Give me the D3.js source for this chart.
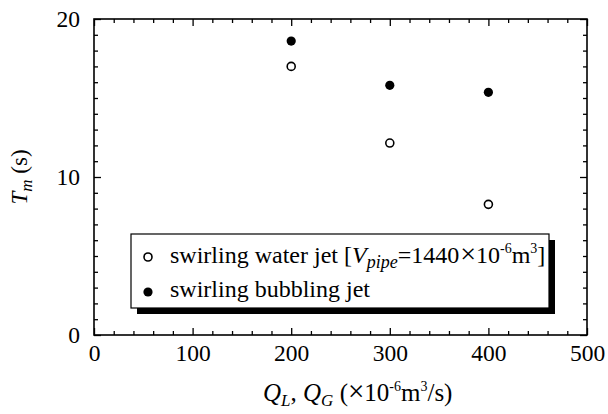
<!DOCTYPE html>
<html><head><meta charset="utf-8">
<script src="https://cdn.jsdelivr.net/npm/d3@7"></script>
<style>
body{margin:0;background:#fff;}
svg{display:block;}
text{font-family:"Liberation Serif","Times New Roman",serif;fill:#000;}
</style></head>
<body>
<svg id="c" width="608" height="414"></svg>
<script>
const categories = [200, 300, 400];
const waterJet = [17.0, 12.15, 8.27];
const bubblingJet = [18.6, 15.8, 15.36];
const xTicks = [0, 100, 200, 300, 400, 500];
const yTicks = [0, 10, 20];
const legendLabels = ["swirling water jet", "swirling bubbling jet"];

const svg = d3.select("#c");
const L = 94, R = 587, T = 19, B = 335;
const x = d3.scaleLinear().domain([0, 500]).range([L, R]);
const y = d3.scaleLinear().domain([0, 20]).range([B, T]);

const xMinor = d3.range(0, 501, 20).filter(v => v % 100 !== 0);
const yMinor = d3.range(0, 21, 1).filter(v => v % 10 !== 0);
const SERIF = '"Liberation Serif","Times New Roman",serif';

function styleAxis(g){
  g.attr("font-family", SERIF);
  g.select(".domain").remove();
  g.selectAll(".tick line").attr("stroke", "#000").attr("stroke-width", 1.3);
}
// bottom
svg.append("g").attr("transform", `translate(0,${B})`)
  .call(d3.axisBottom(x).tickValues(xTicks).tickSize(-7).tickPadding(9).tickFormat(d3.format("d")))
  .call(styleAxis)
  .call(g => g.selectAll("text").attr("font-size", 23.5).style("font-family", SERIF));
svg.append("g").attr("transform", `translate(0,${B})`)
  .call(d3.axisBottom(x).tickValues(xMinor).tickSize(-4).tickFormat(""))
  .call(styleAxis);
// top
svg.append("g").attr("transform", `translate(0,${T})`)
  .call(d3.axisTop(x).tickValues(xTicks).tickSize(-7).tickFormat(""))
  .call(styleAxis);
svg.append("g").attr("transform", `translate(0,${T})`)
  .call(d3.axisTop(x).tickValues(xMinor).tickSize(-4).tickFormat(""))
  .call(styleAxis);
// left
svg.append("g").attr("transform", `translate(${L},0)`)
  .call(d3.axisLeft(y).tickValues(yTicks).tickSize(-7).tickPadding(14).tickFormat(d3.format("d")))
  .call(styleAxis)
  .call(g => g.selectAll("text").attr("font-size", 23.5).style("font-family", SERIF));
svg.append("g").attr("transform", `translate(${L},0)`)
  .call(d3.axisLeft(y).tickValues(yMinor).tickSize(-4).tickFormat(""))
  .call(styleAxis);
// right
svg.append("g").attr("transform", `translate(${R},0)`)
  .call(d3.axisRight(y).tickValues(yTicks).tickSize(-7).tickFormat(""))
  .call(styleAxis);
svg.append("g").attr("transform", `translate(${R},0)`)
  .call(d3.axisRight(y).tickValues(yMinor).tickSize(-4).tickFormat(""))
  .call(styleAxis);

// frame
svg.append("rect").attr("x", L).attr("y", T).attr("width", R - L).attr("height", B - T)
  .attr("fill", "none").attr("stroke", "#000").attr("stroke-width", 1.6);

// points
svg.append("g").selectAll("circle").data(categories).join("circle")
  .attr("cx", (d) => x(d)).attr("cy", (d, i) => y(waterJet[i])).attr("r", 4)
  .attr("fill", "#fff").attr("stroke", "#000").attr("stroke-width", 1.6);
svg.append("g").selectAll("circle").data(categories).join("circle")
  .attr("cx", (d) => x(d)).attr("cy", (d, i) => y(bubblingJet[i])).attr("r", 4.6)
  .attr("fill", "#000");

// legend
const lx = 131, ly = 234, lw = 418, lh = 74, sh = 6;
svg.append("rect").attr("x", lx + sh).attr("y", ly + sh).attr("width", lw).attr("height", lh).attr("fill", "#000");
svg.append("rect").attr("x", lx).attr("y", ly).attr("width", lw).attr("height", lh)
  .attr("fill", "#fff").attr("stroke", "#000").attr("stroke-width", 1.2);
svg.append("circle").attr("cx", 148).attr("cy", 257).attr("r", 4)
  .attr("fill", "#fff").attr("stroke", "#000").attr("stroke-width", 1.6);
svg.append("circle").attr("cx", 148).attr("cy", 292).attr("r", 4.6).attr("fill", "#000");

const t1 = svg.append("text").attr("x", 170).attr("y", 263).attr("font-size", 24);
t1.append("tspan").text(legendLabels[0] + " [");
t1.append("tspan").attr("font-style", "italic").text("V");
t1.append("tspan").attr("font-style", "italic").attr("font-size", 18).attr("dy", 5).text("pipe");
t1.append("tspan").attr("dy", -5).text("=1440");
t1.append("tspan").attr("font-size", 28).attr("dx", 1).text("×");
t1.append("tspan").text("10");
t1.append("tspan").attr("font-size", 14).attr("dy", -10).text("-6");
t1.append("tspan").attr("dy", 10).text("m");
t1.append("tspan").attr("font-size", 14).attr("dy", -10).text("3");
t1.append("tspan").attr("dy", 10).text("]");

svg.append("text").attr("x", 170).attr("y", 297).attr("font-size", 24).text(legendLabels[1]);

// y label
const yl = svg.append("text").attr("transform", "translate(27,177) rotate(-90)")
  .attr("text-anchor", "middle").attr("font-size", 23);
yl.append("tspan").attr("font-style", "italic").text("T");
yl.append("tspan").attr("font-style", "italic").attr("font-size", 17).attr("dy", 5).text("m");
yl.append("tspan").attr("dy", -5).text(" (s)");

// x label
const xl = svg.append("text").attr("x", 263).attr("y", 401).attr("font-size", 25);
xl.append("tspan").attr("font-style", "italic").text("Q");
xl.append("tspan").attr("font-style", "italic").attr("font-size", 17).attr("dy", 5).text("L");
xl.append("tspan").attr("dy", -5).text(", ");
xl.append("tspan").attr("font-style", "italic").text("Q");
xl.append("tspan").attr("font-style", "italic").attr("font-size", 17).attr("dy", 5).text("G");
xl.append("tspan").attr("dy", -5).text(" (");
xl.append("tspan").attr("font-size", 29).text("×");
xl.append("tspan").text("10");
xl.append("tspan").attr("font-size", 14).attr("dy", -10).text("-6");
xl.append("tspan").attr("dy", 10).text("m");
xl.append("tspan").attr("font-size", 14).attr("dy", -10).text("3");
xl.append("tspan").attr("dy", 10).text("/s)");
</script>
</body></html>
